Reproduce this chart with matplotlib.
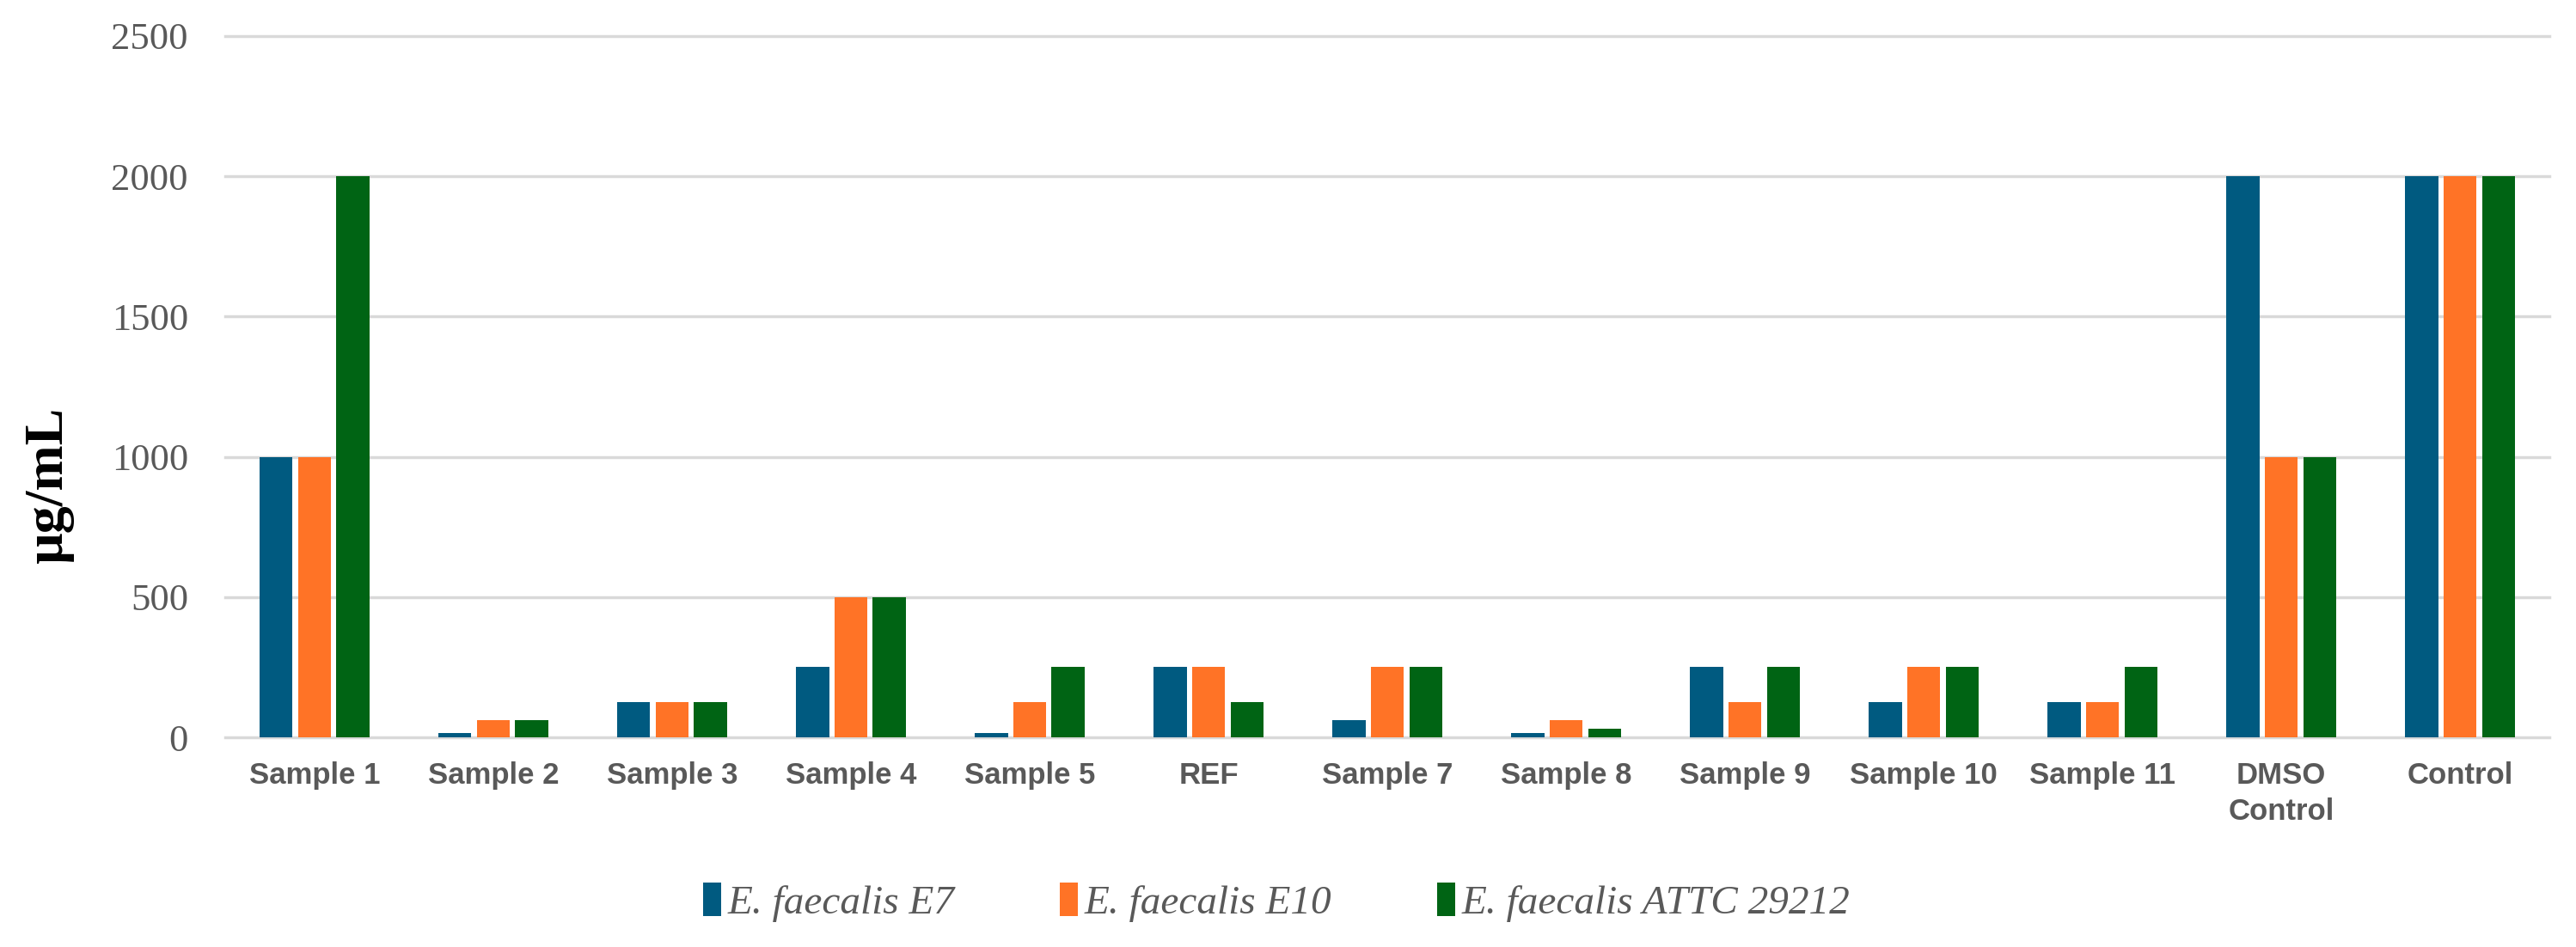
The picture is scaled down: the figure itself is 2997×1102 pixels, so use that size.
import matplotlib
matplotlib.use("Agg")
import matplotlib.pyplot as plt
import numpy as np
from matplotlib.patches import Patch

categories = ["Sample 1", "Sample 2", "Sample 3", "Sample 4", "Sample 5", "REF",
              "Sample 7", "Sample 8", "Sample 9", "Sample 10", "Sample 11",
              "DMSO\nControl", "Control"]
series_names = ["E. faecalis E7", "E. faecalis E10", "E. faecalis ATTC 29212"]
e7 = [1000, 15.6, 125, 250, 15.6, 250, 62.5, 15.6, 250, 125, 125, 2000, 2000]
e10 = [1000, 62.5, 125, 500, 125, 250, 250, 62.5, 125, 250, 125, 1000, 2000]
attc = [2000, 62.5, 125, 500, 250, 125, 250, 31.25, 250, 250, 250, 1000, 2000]
yticks = [0, 500, 1000, 1500, 2000, 2500]

colors = ["#005A80", "#FF7326", "#006414"]
series = [e7, e10, attc]

fig = plt.figure(figsize=(29.97, 11.02), dpi=100)
ax = fig.add_axes([0.0874, 0.2214, 0.9023, 0.7405])

x = np.arange(len(categories))
bw = 0.185
step = 0.215
for i, (vals, c) in enumerate(zip(series, colors)):
    ax.bar(x + (i - 1) * step, vals, width=bw, color=c, zorder=3)

ax.set_xlim(-0.5, len(categories) - 0.5)
ax.set_ylim(0, 2500)
ax.set_yticks(yticks)
for t in yticks:
    ax.axhline(t, color="#D9D9D9", lw=2.5, zorder=1, clip_on=False)
for s in ax.spines.values():
    s.set_visible(False)
ax.tick_params(axis="both", length=0)
ax.tick_params(axis="y", pad=31)
ax.tick_params(axis="x", pad=20)
ax.set_yticklabels([str(t) for t in yticks], fontfamily="Liberation Serif",
                   fontsize=32, color="#595959")
ax.set_xticks(x)
ax.set_xticklabels(categories, fontfamily="Liberation Sans", fontsize=25,
                   fontweight="bold", color="#595959", linespacing=1.35)
ax.set_ylabel("µg/mL", fontfamily="Liberation Serif", fontsize=46,
              fontweight="bold", color="black")
ax.yaxis.set_label_coords(-0.065, 0.36)

handles = [Patch(facecolor=c, edgecolor="none") for c in colors]
leg = fig.legend(handles, series_names, loc="center", bbox_to_anchor=(0.4955, 0.047),
                 ncol=3, frameon=False, handlelength=0.45, handleheight=0.9,
                 handletextpad=0.15, columnspacing=2.6,
                 prop={"family": "Liberation Serif", "style": "italic", "size": 34})
for t in leg.get_texts():
    t.set_color("#595959")

fig.savefig("out.png", dpi=100)
